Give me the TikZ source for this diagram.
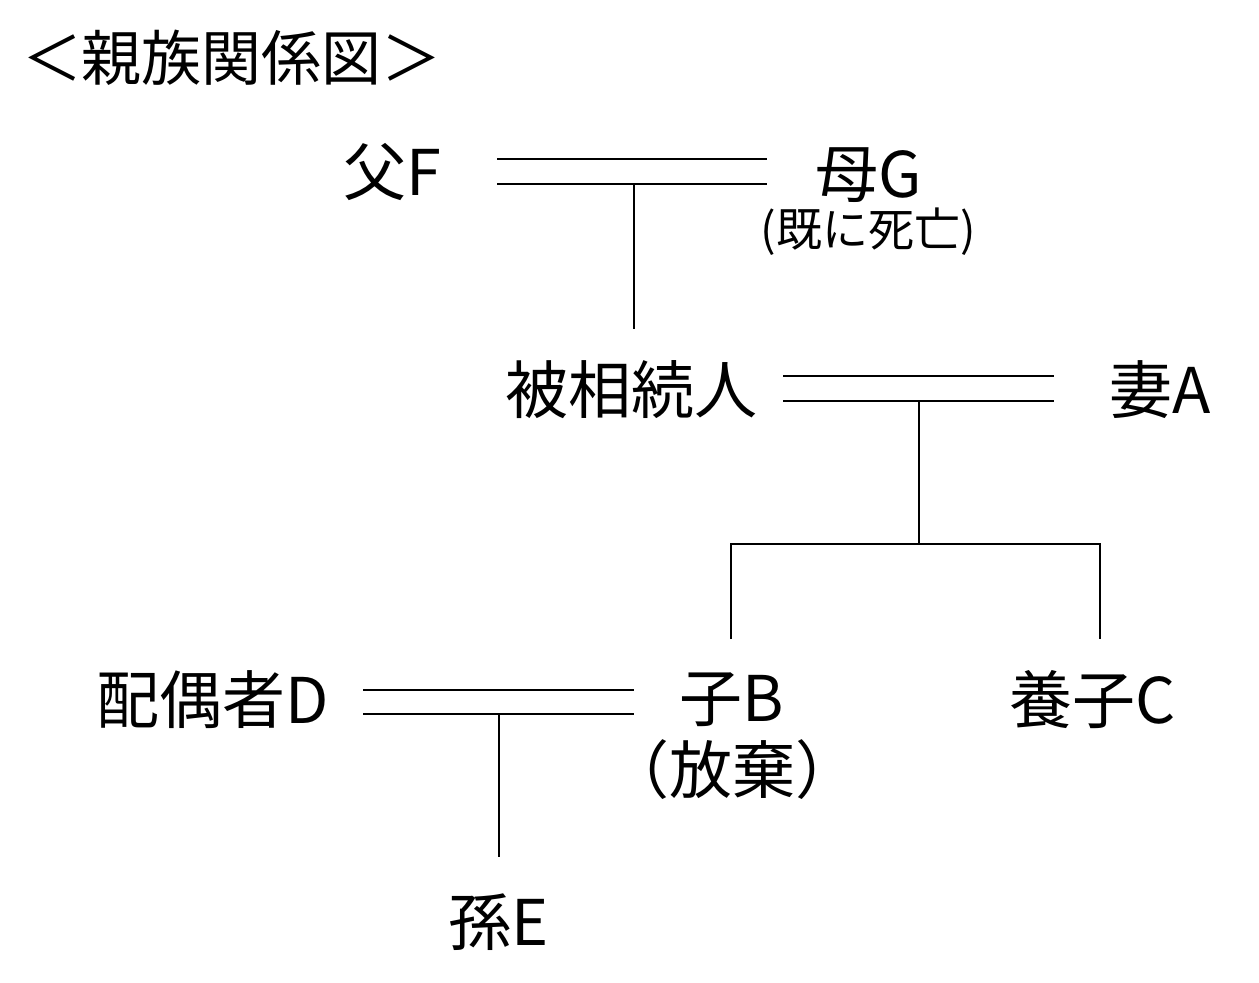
\documentclass[tikz,border=0pt]{standalone}
\usepackage{fontspec}
\setmainfont{Noto Sans CJK JP}
\begin{document}
\begin{tikzpicture}[x=1pt,y=-1pt,
  lbl/.style={inner sep=0pt,font=\fontsize{63}{70}\selectfont},
  ttl/.style={inner sep=0pt,font=\fontsize{60}{66}\selectfont},
  note/.style={inner sep=0pt,font=\fontsize{46}{52}\selectfont},
  rel/.style={line width=2pt},
  dsc/.style={line width=1.6pt}]
\useasboundingbox (0,0) rectangle (1259,983);
\node[ttl] (title) at (232,58) {＜親族関係図＞};
\node[lbl] (F) at (392,172) {父F};
\node[lbl] (G) at (869,175) {母G};
\node[note] (Gn) at (868,232) {(既に死亡)};
\node[lbl] (H) at (631,390) {被相続人};
\node[lbl] (A) at (1160,390) {妻A};
\node[lbl] (B) at (732,700) {子B};
\node[lbl] (Bn) at (732,770) {（放棄）};
\node[lbl] (C) at (1093,700) {養子C};
\node[lbl] (D) at (213,700) {配偶者D};
\node[lbl] (E) at (499,922) {孫E};
% couples
\coordinate (fg1) at (497,159); \coordinate (fg2) at (767,159);
\coordinate (fg3) at (497,184); \coordinate (fg4) at (767,184);
\coordinate (fgm) at (634,184); \coordinate (hT) at (634,329);
\draw[rel] (fg1) -- (fg2);
\draw[rel] (fg3) -- (fg4);
\draw[dsc] (fgm) -- (hT);
\coordinate (ha1) at (783,376); \coordinate (ha2) at (1054,376);
\coordinate (ha3) at (783,401); \coordinate (ha4) at (1054,401);
\coordinate (ham) at (919,401); \coordinate (sib) at (919,544);
\coordinate (sibL) at (731,544); \coordinate (sibR) at (1100,544);
\coordinate (bT) at (731,639); \coordinate (cT) at (1100,639);
\draw[rel] (ha1) -- (ha2);
\draw[rel] (ha3) -- (ha4);
\draw[dsc] (ham) -- (sib);
\draw[dsc] (bT) -- (sibL) -- (sibR) -- (cT);
\coordinate (db1) at (363,690); \coordinate (db2) at (634,690);
\coordinate (db3) at (363,714); \coordinate (db4) at (634,714);
\coordinate (dbm) at (499,714); \coordinate (eT) at (499,857);
\draw[rel] (db1) -- (db2);
\draw[rel] (db3) -- (db4);
\draw[dsc] (dbm) -- (eT);
\end{tikzpicture}
\end{document}
